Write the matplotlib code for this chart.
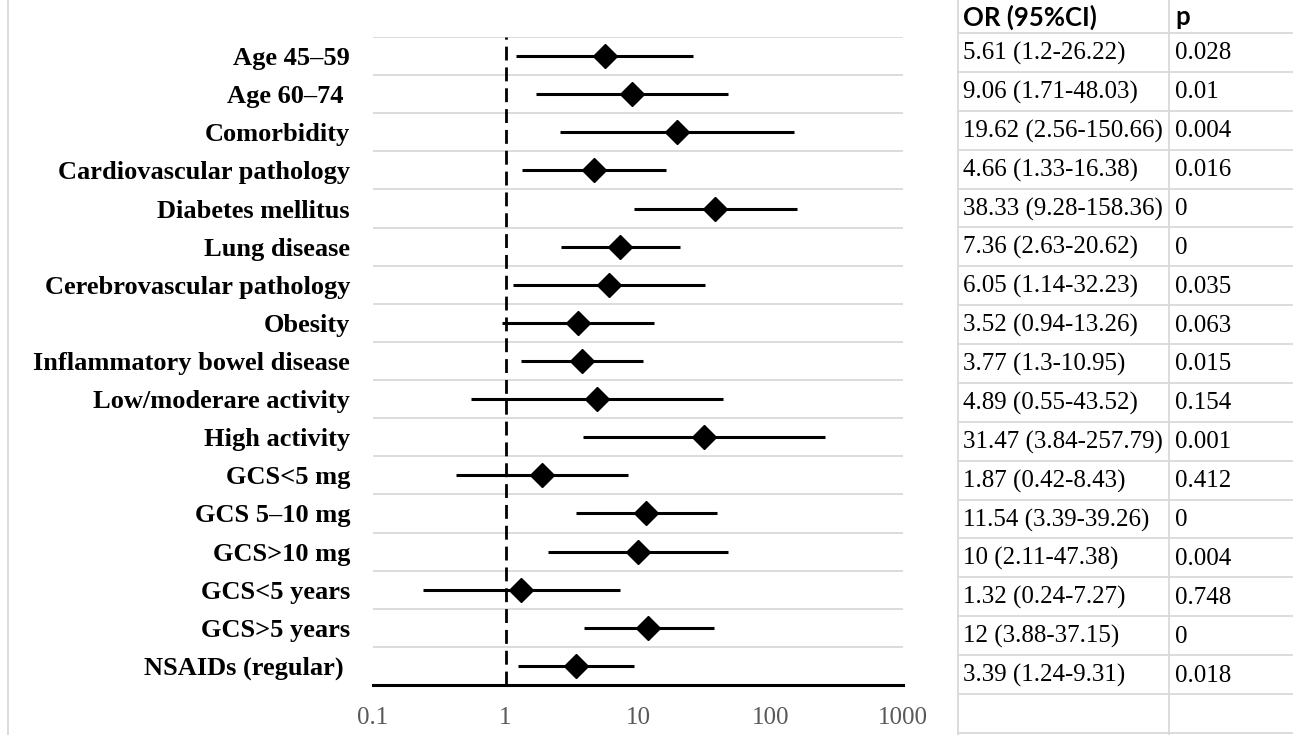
import numpy as np
import matplotlib.pyplot as plt
from matplotlib.lines import Line2D

labels = ["Age 45–59", "Age 60–74 ", "Comorbidity", "Cardiovascular pathology",
          "Diabetes mellitus", "Lung disease", "Cerebrovascular pathology", "Obesity",
          "Inflammatory bowel disease", "Low/moderare activity", "High activity",
          "GCS<5 mg", "GCS 5–10 mg", "GCS>10 mg", "GCS<5 years", "GCS>5 years",
          "NSAIDs (regular) "]
or_vals = [5.61, 9.06, 19.62, 4.66, 38.33, 7.36, 6.05, 3.52, 3.77, 4.89, 31.47,
           1.87, 11.54, 10, 1.32, 12, 3.39]
ci_low = [1.2, 1.71, 2.56, 1.33, 9.28, 2.63, 1.14, 0.94, 1.3, 0.55, 3.84,
          0.42, 3.39, 2.11, 0.24, 3.88, 1.24]
ci_high = [26.22, 48.03, 150.66, 16.38, 158.36, 20.62, 32.23, 13.26, 10.95, 43.52,
           257.79, 8.43, 39.26, 47.38, 7.27, 37.15, 9.31]
p_vals = ["0.028", "0.01", "0.004", "0.016", "0", "0", "0.035", "0.063", "0.015",
          "0.154", "0.001", "0.412", "0", "0.004", "0.748", "0", "0.018"]
xticks = [0.1, 1, 10, 100, 1000]
xtick_labels = ["0.1", "1", "10", "100", "1000"]

W, H = 1293, 735
fig = plt.figure(figsize=(W / 100, H / 100), dpi=100)
fig.patch.set_facecolor("white")

serif = ["Liberation Serif", "DejaVu Serif"]
grid_col = "#d9d9d9"

n = len(labels)
y = np.arange(n)

ax = fig.add_axes([373 / W, 1 - 685 / H, (903 - 373) / W, (685 - 37) / H])
ax.set_xscale("log")
ax.set_xlim(0.1, 1000)
ax.set_ylim(n - 0.5, -0.5)

# row separators
for k in range(n):
    ax.axhline(k - 0.5, color=grid_col, lw=1.3, zorder=0)

ax.axvline(1, color="black", lw=2, ls=(0, (5, 2.5)), zorder=1)

or_arr = np.array(or_vals)
err = [or_arr - np.array(ci_low), np.array(ci_high) - or_arr]
ax.errorbar(or_vals, y, xerr=err, fmt="D", color="black", ms=12,
            elinewidth=2.2, capsize=0, zorder=3)

for s in ["top", "right", "left"]:
    ax.spines[s].set_visible(False)
ax.spines["bottom"].set_linewidth(2.2)
ax.set_yticks(y)
ax.set_yticklabels(labels, fontfamily=serif, fontweight="bold", fontsize=19)
ax.tick_params(axis="y", length=0, pad=16.5)
ax.set_xticks(xticks)
ax.set_xticklabels(xtick_labels, fontfamily=serif, fontsize=18, color="#595959")
ax.xaxis.set_minor_locator(plt.NullLocator())
ax.tick_params(axis="x", length=0, pad=16)

# left border of the sheet
fig.add_artist(Line2D([8 / W, 8 / W], [0, 1], color=grid_col, lw=1.3))

# table on the right
tx0, tx1, tx2 = 958, 1169, 1293
row_h = 38.88
top = 33
fig.add_artist(Line2D([tx0 / W, tx0 / W], [0, 1], color=grid_col, lw=1.3))
fig.add_artist(Line2D([tx1 / W, tx1 / W], [0, 1], color=grid_col, lw=1.3))
for k in range(n + 2):
    yy = 1 - (top + k * row_h) / H
    fig.add_artist(Line2D([tx0 / W, tx2 / W], [yy, yy], color=grid_col, lw=1.3))

head_y = 1 - 17 / H
fig.text((tx0 + 5) / W, head_y, "OR (95%CI)", fontfamily=["Lato", "DejaVu Sans"],
         fontweight="bold", fontsize=18.5, va="center", ha="left")
fig.text((tx1 + 6) / W, head_y, "p", fontfamily=["Lato", "DejaVu Sans"],
         fontweight="bold", fontsize=18.5, va="center", ha="left")

for k in range(n):
    yy = 1 - (top + (k + 0.5) * row_h + 1) / H
    txt = f"{or_vals[k]:g} ({ci_low[k]:g}-{ci_high[k]:g})"
    fig.text((tx0 + 5) / W, yy, txt, fontfamily=serif, fontsize=18,
             va="center", ha="left")
    fig.text((tx1 + 6) / W, yy, p_vals[k], fontfamily=serif, fontsize=18,
             va="center", ha="left")

fig.savefig("out.png", dpi=100)
